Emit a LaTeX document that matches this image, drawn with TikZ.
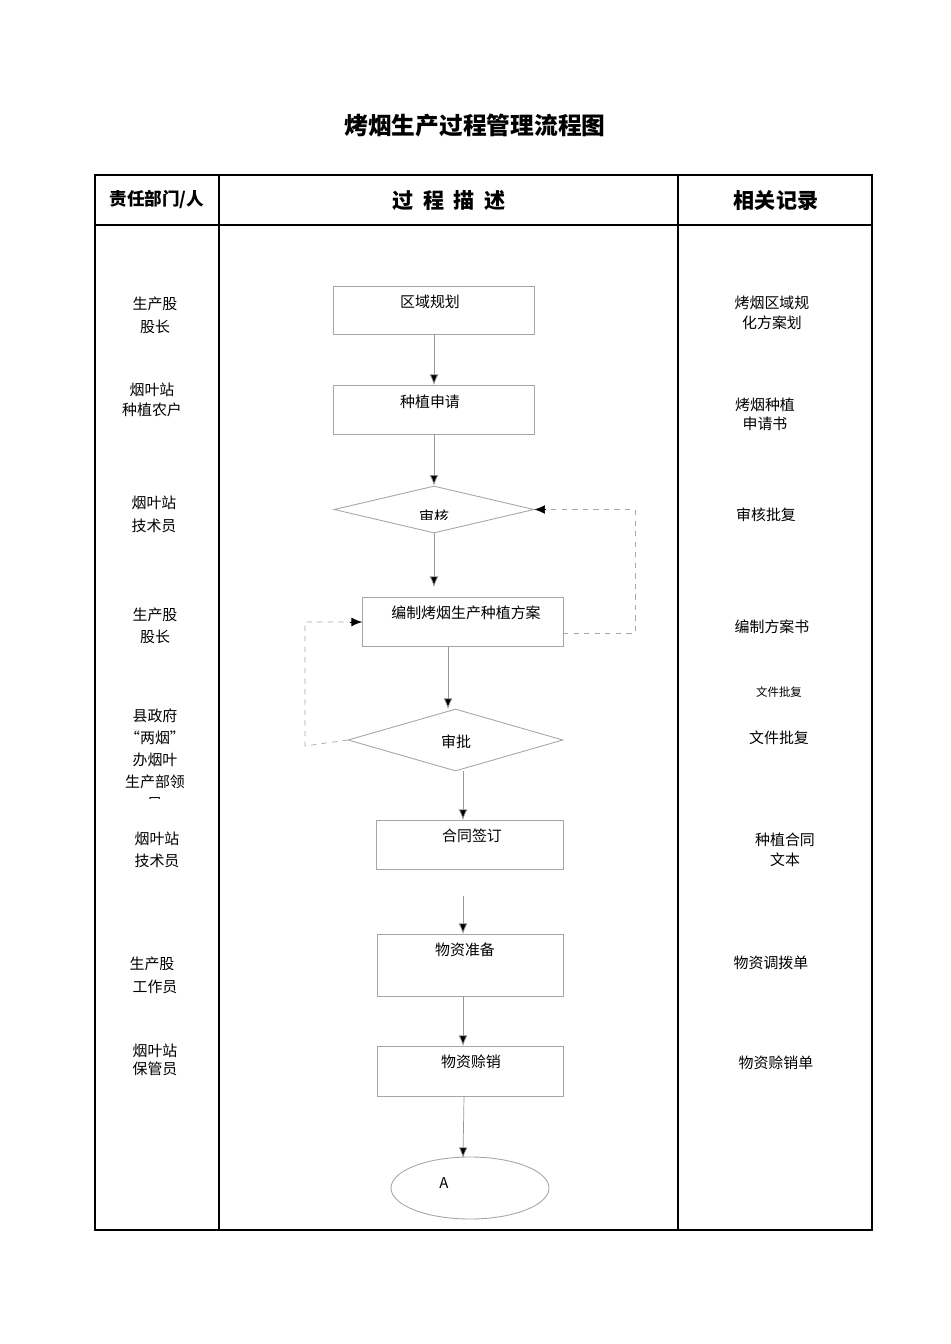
\documentclass[tikz,border=0pt]{standalone}
\usepackage{fontspec}
\setmainfont{Noto Sans CJK SC}
\usetikzlibrary{shapes.geometric,arrows.meta}
\begin{document}
\begin{tikzpicture}[x=0.02cm,y=-0.02cm,
  box/.style={draw=gray!70,line width=0.5pt},
  lbl/.style={font=\fontsize{8.5}{10}\selectfont,inner sep=0pt},
  arr/.style={-{Latex[length=6pt,width=5pt,fill=black]},draw=gray!80,line width=0.4pt},
  dsh/.style={dashed,gray!70,line width=0.4pt},
  hdr/.style={font=\bfseries\fontsize{12}{14}\selectfont,inner sep=0pt}]
\useasboundingbox (0,0) rectangle (950,1344);
\node[font=\bfseries\fontsize{13.5}{16}\selectfont] (title) at (475,126) {烤烟生产过程管理流程图};
\draw[line width=0.6pt] (95,175) rectangle (872,1230);
\draw[line width=0.6pt] (219,175) -- (219,1230) (678,175) -- (678,1230) (95,225) -- (872,225);
\node[font=\bfseries\fontsize{10}{12}\selectfont] (h1) at (157,200) {责任部门/人};
\node[hdr] (h2) at (449,201) {过\hspace{0.45em}程\hspace{0.45em}描\hspace{0.45em}述};
\node[hdr] (h3) at (776,201) {相关记录};
% boxes
\draw[box] (333,286) rectangle (534,334); \node[lbl] at (430,302) {区域规划};
\draw[box] (333,385) rectangle (534,434); \node[lbl] at (430,402) {种植申请};
\node[box,diamond,aspect=4.25,minimum width=200*0.02cm,minimum height=47*0.02cm,inner sep=0pt] (d1) at (434,509.5) {};
\begin{scope}\clip (334,486) rectangle (534,519);
\node[lbl] at (434,517) {审核};\end{scope}
\draw[box] (362,597) rectangle (563,646); \node[lbl] at (466,613) {编制烤烟生产种植方案};
\node[box,diamond,aspect=3.47,minimum width=215*0.02cm,minimum height=62*0.02cm,inner sep=0pt] (d2) at (455.5,740) {};
\node[lbl] at (456,742) {审批};
\draw[box] (376,820) rectangle (563,869); \node[lbl] at (472,836) {合同签订};
\draw[box] (377,934) rectangle (563,996); \node[lbl] at (465,950) {物资准备};
\draw[box] (377,1046) rectangle (563,1096); \node[lbl] at (471,1062) {物资赊销};
\node[ellipse,draw=gray!70,line width=0.5pt,minimum width=158*0.02cm,minimum height=62*0.02cm] (e) at (470,1188) {};
\node[lbl] at (444,1183) {A};
% arrows
\coordinate (a1) at (434,334); \coordinate (a2) at (434,385);
\draw[arr] (a1) -- (a2);
\coordinate (a3) at (434,434); \draw[arr] (a3) -- (d1.north);
\coordinate (a4) at (434,587); \draw[arr] (d1.south) -- (a4);
\coordinate (a5) at (448,646); \coordinate (a6) at (448,709); \draw[arr] (a5) -- (a6);
\coordinate (a7) at (463,771); \coordinate (a8) at (463,820); \draw[arr] (a7) -- (a8);
\coordinate (a9) at (463,896); \coordinate (a10) at (463,934); \draw[arr] (a9) -- (a10);
\coordinate (a11) at (463,996); \coordinate (a12) at (463,1046); \draw[arr] (a11) -- (a12);
\coordinate (a13) at (464,1096); \coordinate (a14) at (463,1158); \draw[arr] (a13) -- (a14);
% dashed feedback
\coordinate (f1) at (563,633); \coordinate (f2) at (635,633); \coordinate (f3) at (635,509.5);
\draw[dsh] (f1) -- (f2) -- (f3) -- (d1.east);
\draw[-{Latex[length=6pt,width=5pt]},black] (545,509.5) -- (d1.east);
\coordinate (g1) at (305,746); \coordinate (g2) at (305,622); \coordinate (g3) at (362,622);
\draw[dsh] (d2.west) -- (g1) -- (g2) -- (g3);
\draw[-{Latex[length=6pt,width=5pt]},black] (350,622) -- (g3);
% left column
\node[lbl] at (155,304) {生产股}; \node[lbl] at (155,327) {股长};
\node[lbl] at (152,390) {烟叶站}; \node[lbl] at (152,410) {种植农户};
\node[lbl] at (154,503) {烟叶站}; \node[lbl] at (154,526) {技术员};
\node[lbl] at (155,615) {生产股}; \node[lbl] at (155,637) {股长};
\node[lbl] at (155,716) {县政府}; \node[lbl] at (155,738) {“两烟”};
\node[lbl] at (155,760) {办烟叶};
\begin{scope}\clip (100,770) rectangle (215,798);
\node[lbl] at (155,782) {生产部领}; \node[lbl] at (155,804) {导};\end{scope}
\node[lbl] at (157,839) {烟叶站}; \node[lbl] at (157,861) {技术员};
\node[lbl] at (152,964) {生产股}; \node[lbl] at (155,987) {工作员};
\node[lbl] at (155,1051) {烟叶站}; \node[lbl] at (155,1069) {保管员};
% right column
\node[lbl] at (772,303) {烤烟区域规}; \node[lbl] at (772,323) {化方案划};
\node[lbl] at (765,405) {烤烟种植}; \node[lbl] at (765,424) {申请书};
\node[lbl] at (766,515) {审核批复};
\node[lbl] at (772,627) {编制方案书};
\node[lbl,font=\fontsize{6.5}{8}\selectfont] at (779,692) {文件批复};
\node[lbl] at (779,738) {文件批复};
\node[lbl] at (785,840) {种植合同}; \node[lbl] at (785,860) {文本};
\node[lbl] at (771,963) {物资调拨单};
\node[lbl] at (776,1063) {物资赊销单};
\end{tikzpicture}
\end{document}
